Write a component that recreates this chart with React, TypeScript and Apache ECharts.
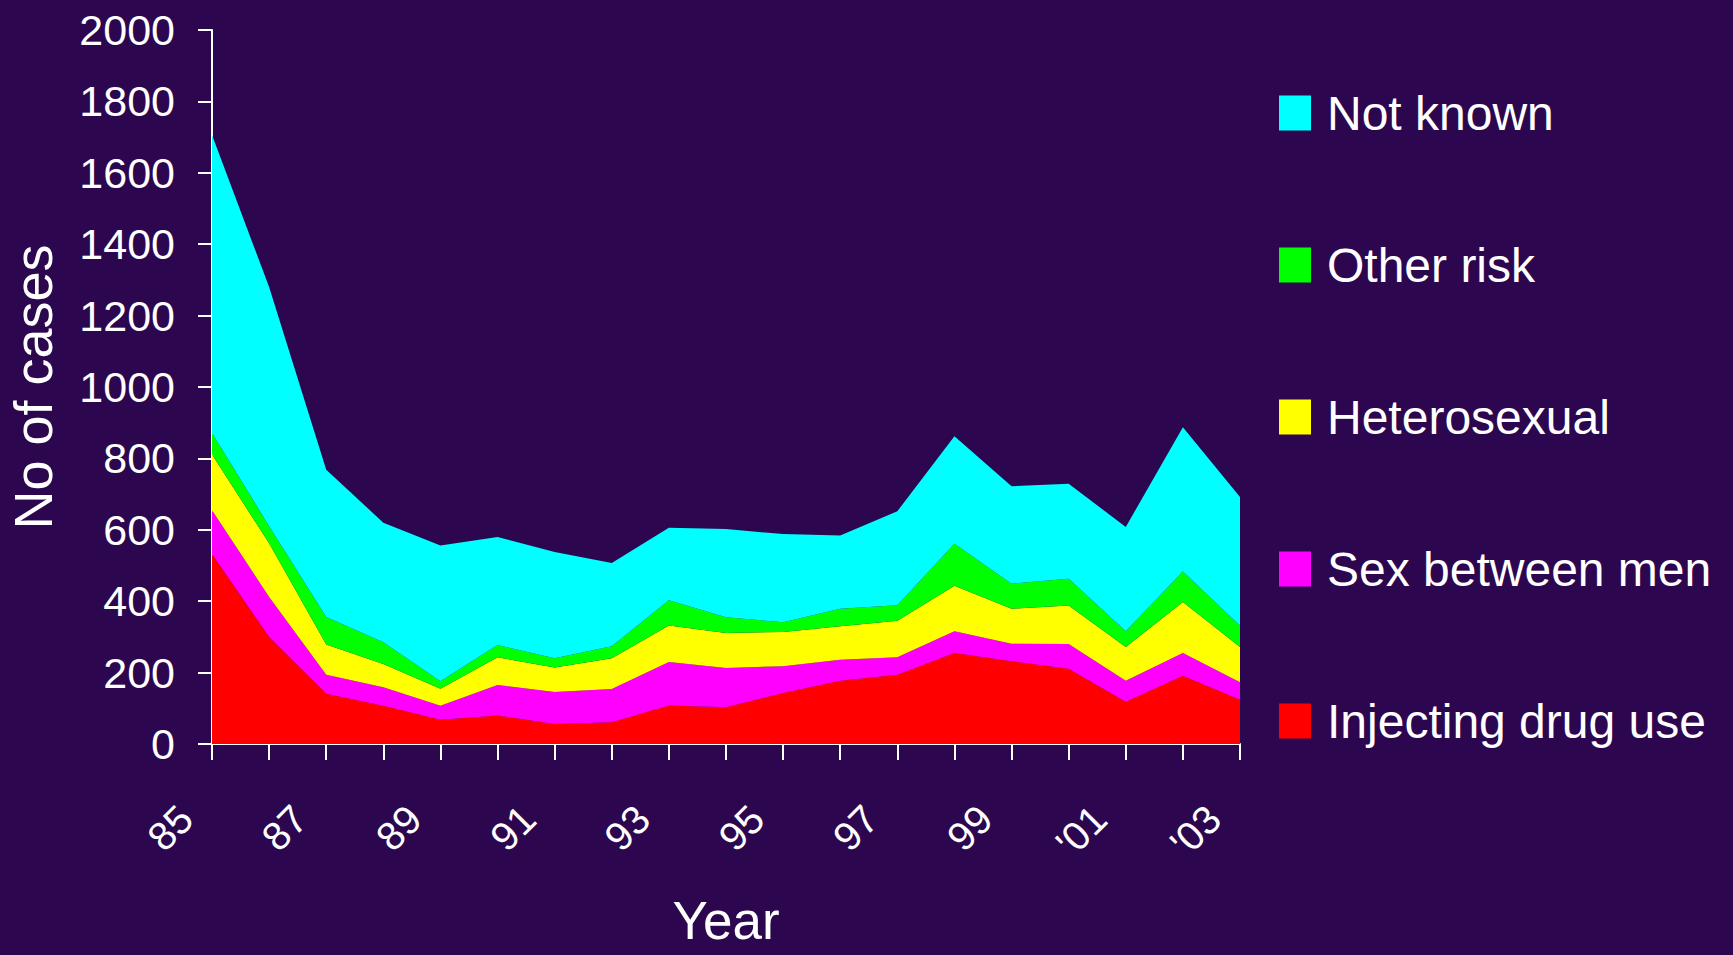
import React, { useEffect, useRef } from "react";
import * as echarts from "echarts";

const years = ["85", "86", "87", "88", "89", "90", "91", "92", "93", "94", "95", "96", "97", "98", "99", "'00", "'01", "'02", "'03"];
const injectingDrugUse = [532, 300, 141, 107, 68, 80, 56, 61, 108, 103, 143, 177, 194, 255, 232, 211, 118, 191, 124];
const sexBetweenMen = [123, 112, 53, 52, 39, 85, 90, 93, 122, 110, 75, 59, 49, 61, 49, 69, 59, 64, 49];
const heterosexual = [156, 150, 85, 65, 48, 78, 68, 86, 102, 98, 96, 94, 102, 127, 98, 108, 95, 143, 99];
const otherRisk = [60, 48, 77, 61, 21, 34, 26, 34, 71, 44, 27, 49, 44, 118, 70, 75, 44, 85, 59];
const notKnown = [835, 670, 412, 335, 380, 303, 298, 233, 203, 247, 247, 205, 263, 301, 273, 266, 292, 404, 361];

const seriesNames = ["Injecting drug use", "Sex between men", "Heterosexual", "Other risk", "Not known"];
const seriesColors = ["#ff0000", "#ff00ff", "#ffff00", "#00ff00", "#00ffff"];
const seriesData = [injectingDrugUse, sexBetweenMen, heterosexual, otherRisk, notKnown];
const legendOrder = ["Not known", "Other risk", "Heterosexual", "Sex between men", "Injecting drug use"];

const FONT = "Liberation Sans, Arial, sans-serif";

export default function App() {
  const ref = useRef<HTMLDivElement>(null);
  useEffect(() => {
    if (!ref.current) return;
    const chart = echarts.init(ref.current, undefined, { renderer: "svg" });
    chart.setOption({
      animation: false,
      backgroundColor: "#2c0750",
      textStyle: { fontFamily: FONT, color: "#ffffff" },
      grid: { left: 212, right: 493, top: 30, bottom: 211, containLabel: false, outerBoundsMode: "none" },
      legend: {
        data: legendOrder,
        orient: "vertical",
        left: 1274,
        top: 82,
        itemWidth: 32,
        itemHeight: 35,
        itemGap: 100,
        icon: "rect",
        textStyle: { color: "#ffffff", fontSize: 48, fontFamily: FONT, lineHeight: 52, padding: [0, 0, 0, 11] },
      },
      xAxis: {
        type: "category",
        data: years,
        boundaryGap: false,
        name: "Year",
        nameLocation: "middle",
        nameGap: 150,
        nameTextStyle: { color: "#ffffff", fontSize: 53, fontFamily: FONT },
        axisLine: { show: true, lineStyle: { color: "#ffffff", width: 2 } },
        axisTick: { show: true, interval: 0, length: 16, lineStyle: { color: "#ffffff", width: 2 } },
        axisLabel: {
          interval: 1,
          rotate: 45,
          margin: 42,
          color: "#ffffff",
          fontSize: 40,
          fontFamily: FONT,
          padding: [0, 37, 0, 0],
        },
        splitLine: { show: false },
      },
      yAxis: {
        type: "value",
        min: 0,
        max: 2000,
        interval: 200,
        name: "No of cases",
        nameLocation: "middle",
        nameGap: 152,
        nameRotate: 90,
        nameTextStyle: { color: "#ffffff", fontSize: 54, fontFamily: FONT },
        axisLine: { show: true, lineStyle: { color: "#ffffff", width: 2 } },
        axisTick: { show: true, length: 14, lineStyle: { color: "#ffffff", width: 2 } },
        axisLabel: {
          color: "#ffffff",
          fontSize: 43,
          fontFamily: FONT,
          margin: 37,
          formatter: (v: number) => String(v),
        },
        splitLine: { show: false },
      },
      series: seriesNames.map((name, i) => ({
        name,
        type: "line",
        stack: "total",
        data: seriesData[i],
        symbol: "none",
        lineStyle: { width: 0 },
        itemStyle: { color: seriesColors[i] },
        areaStyle: { color: seriesColors[i], opacity: 1 },
        z: 2,
      })),
    });
    return () => chart.dispose();
  }, []);
  return <div ref={ref} style={{ width: 1733, height: 955, position: "absolute", left: 0, top: 0 }} />;
}
